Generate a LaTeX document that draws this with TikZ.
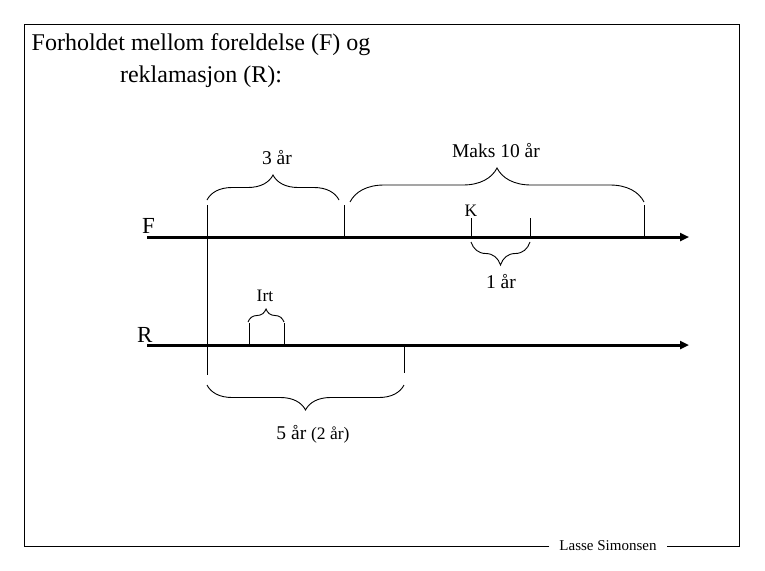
\documentclass[tikz,border=0pt]{standalone}
\usepackage{fontspec}
\setmainfont{Liberation Serif}
\usetikzlibrary{arrows.meta,decorations.pathreplacing}

\begin{document}
\begin{tikzpicture}[x=1pt,y=-1pt,
    axis/.style={line width=3pt,-{Triangle[length=9pt,width=8pt]}},
    tick/.style={line width=0.9pt},
    curly/.style={decorate,decoration={brace,amplitude=#1},line width=0.9pt},
    lbl/.style={anchor=base,inner sep=0pt,font=\fontsize{19.5}{22}\selectfont},
    lblsmall/.style={lbl,font=\fontsize{17.5}{20}\selectfont}]
  \useasboundingbox (0,0) rectangle (765,570);

  % frame with signature
  \node[fill=white,inner xsep=10pt,font=\fontsize{15}{17}\selectfont] (sign) at (608,546) {Lasse Simonsen};
  \draw[line width=0.9pt] (sign.west) -- (24,546) -- (24,24) -- (739,24) -- (739,546) -- (sign.east);

  % title
  \node[anchor=base,inner sep=0pt,font=\fontsize{24}{30}\selectfont] (title1) at (201,50) {Forholdet mellom foreldelse (F) og};
  \node[anchor=base,inner sep=0pt,font=\fontsize{24}{30}\selectfont] (title2) at (201,82) {reklamasjon (R):};

  % time lines
  \draw[axis] (147,237) -- (689,237);
  \draw[axis] (147,345) -- (689,345);
  \node[anchor=base west,inner sep=0pt,font=\fontsize{23}{26}\selectfont] (F) at (142,233) {F};
  \node[anchor=base west,inner sep=0pt,font=\fontsize{23}{26}\selectfont] (R) at (137,342) {R};

  % ticks
  \draw[tick] (207,205) -- (207,375);
  \draw[tick] (344,205) -- (344,237);
  \draw[tick] (644,205) -- (644,237);
  \draw[tick] (471,218) -- (471,237);
  \draw[tick] (530,218) -- (530,237);
  \draw[tick] (249,323) -- (249,345);
  \draw[tick] (284,323) -- (284,345);
  \draw[tick] (404,345) -- (404,373);

  % braces
  \draw[curly=25] (207,200) -- (339,200);
  \draw[curly=34] (350,202) -- (644,202);
  \draw[curly=13] (248,322) -- (284,322);
  \draw[curly=23] (530,242) -- (471,242);
  \draw[curly=25] (404,385) -- (207,385);

  % labels
  \node[lbl] (tre) at (277,164) {3 år};
  \node[lbl] (maks) at (496,157) {Maks 10 år};
  \node[lblsmall] (K) at (471,216) {K};
  \node[lbl] (ett) at (501,288) {1 år};
  \node[lblsmall] (irt) at (265,301) {Irt};
  \node[lbl] (fem) at (313,439) {5 år {\fontsize{17.5}{20}\selectfont(2 år)}};
\end{tikzpicture}
\end{document}
